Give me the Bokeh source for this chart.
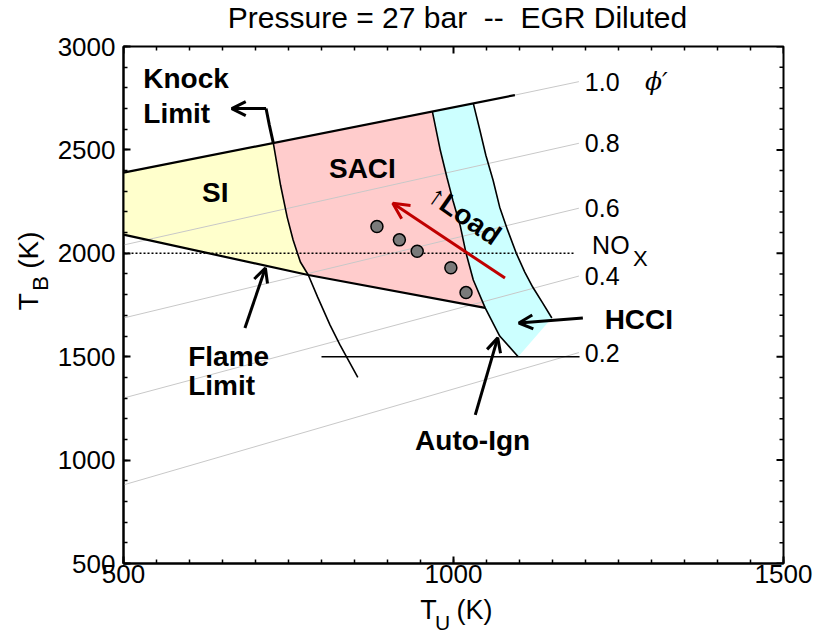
from bokeh.plotting import figure
from bokeh.layouts import column, row
from bokeh.models import Range1d, SingleIntervalTicker, Label, Arrow, OpenHead
from bokeh.embed import file_html
from bokeh.resources import INLINE

# ---- data (T_U = unburned temperature, T_B = burned temperature, K) ----
# phi' lines of constant charge equivalence ratio
phi_names = ["1.0", "0.8", "0.6", "0.4", "0.2"]
phi10_tu = [500, 1093, 1190]
phi10_tb = [2390, 2765, 2830]
phi08_tu = [500, 1190]
phi08_tb = [2040, 2532]
phi06_tu = [500, 1190]
phi06_tb = [1687, 2218]
phi04_tu = [500, 1190]
phi04_tb = [1300, 1890]
phi02_tu = [500, 1190]
phi02_tb = [880, 1520]

# stoichiometric upper boundary (black part of the phi'=1.0 line)
stoich_tu = [500, 1093]
stoich_tb = [2390, 2765]

# flame (lean) limit
flame_tu = [500, 780, 1048]
flame_tb = [2090, 1895, 1736]

# knock limit
knock_tu = [727, 738, 748, 757, 768, 780, 794, 813, 828, 855]
knock_tb = [2533, 2329, 2175, 2064, 1958, 1895, 1789, 1653, 1557, 1400]
knock_flame_idx = 5

# auto-ignition limit (left edge of the HCCI band)
ai_tu = [968, 980, 990, 999, 1010, 1019, 1030, 1048, 1070, 1098]
ai_tb = [2685, 2498, 2368, 2257, 2136, 2001, 1871, 1736, 1600, 1500]
ai_flame_idx = 7

# right edge of the HCCI band
hr_tu = [1030, 1040, 1049, 1060, 1070, 1082, 1095, 1108, 1120, 1135, 1149]
hr_tb = [2725, 2595, 2474, 2353, 2223, 2112, 2001, 1909, 1837, 1760, 1687]

# measured SACI operating points
pts_tu = [884, 918, 945, 996, 1019]
pts_tb = [2130, 2065, 2010, 1930, 1810]

# NOx threshold and lower burned-temperature line
nox_tb = 2000
nox_tu = [500, 1184]
low_tb = 1500
low_tu = [800, 1191]

# load direction
load_from = (1078, 1880)
load_to = (908, 2242)

# axis limits and ticks
x_lim = (500, 1500)
y_lim = (500, 3000)
x_minor = [550, 600, 650, 700, 750, 800, 850, 900, 950,
           1050, 1100, 1150, 1200, 1250, 1300, 1350, 1400, 1450]
x_major = [500, 1000, 1500]
y_minor = [600, 700, 800, 900, 1100, 1200, 1300, 1400, 1600, 1700, 1800, 1900,
           2100, 2200, 2300, 2400, 2600, 2700, 2800, 2900]
y_major = [500, 1000, 1500, 2000, 2500, 3000]

FONT = "Liberation Sans"
MAJOR_PX, MINOR_PX = 7, 4

# ---- page geometry (pixels) ----
W, H = 814, 634
TOP_H, LEFT_W = 34, 54
MAIN_W, MAIN_H = W - LEFT_W, 561
BOT_H = H - TOP_H - MAIN_H
BORDER = dict(left=69, right=31, top=12, bottom=32)
FRAME_W = MAIN_W - BORDER["left"] - BORDER["right"]
FRAME_H = MAIN_H - BORDER["top"] - BORDER["bottom"]

p = figure(width=MAIN_W, height=MAIN_H, x_range=Range1d(*x_lim), y_range=Range1d(*y_lim),
           output_backend="svg", toolbar_location=None,
           min_border_left=BORDER["left"], min_border_right=BORDER["right"],
           min_border_top=BORDER["top"], min_border_bottom=BORDER["bottom"])
p.xgrid.visible = False
p.ygrid.visible = False
p.outline_line_color = "black"
p.outline_line_width = 2
p.background_fill_color = None
p.border_fill_color = "white"

# ---- combustion-mode regions ----
si_x = [stoich_tu[0]] + knock_tu[:knock_flame_idx + 1] + flame_tu[:2][::-1]
si_y = [stoich_tb[0]] + knock_tb[:knock_flame_idx + 1] + flame_tb[:2][::-1]
p.patch(si_x, si_y, fill_color="#FFFFCC", line_color=None)

saci_x = (knock_tu[:1] + ai_tu[:ai_flame_idx + 1] + flame_tu[1:][::-1]
          + knock_tu[:knock_flame_idx + 1][::-1])
saci_y = (knock_tb[:1] + ai_tb[:ai_flame_idx + 1] + flame_tb[1:][::-1]
          + knock_tb[:knock_flame_idx + 1][::-1])
p.patch(saci_x, saci_y, fill_color="#FFCCCC", line_color=None)

hcci_x = ai_tu + hr_tu[::-1]
hcci_y = ai_tb + hr_tb[::-1]
p.patch(hcci_x, hcci_y, fill_color="#CCFFFF", line_color=None)

# ---- phi' lines ----
phi_tus = [phi10_tu, phi08_tu, phi06_tu, phi04_tu, phi02_tu]
phi_tbs = [phi10_tb, phi08_tb, phi06_tb, phi04_tb, phi02_tb]
for tu, tb in zip(phi_tus, phi_tbs):
    p.line(tu, tb, line_color="#c8c8c8", line_width=1)

# ---- limit lines ----
p.line(stoich_tu, stoich_tb, line_color="black", line_width=2.2)
p.line(flame_tu, flame_tb, line_color="black", line_width=2.2)
p.line(knock_tu, knock_tb, line_color="black", line_width=1.6)
p.line(ai_tu, ai_tb, line_color="black", line_width=1.6)
p.line(hr_tu, hr_tb, line_color="black", line_width=1.6)
p.line(nox_tu, [nox_tb, nox_tb], line_color="black", line_width=1.6, line_dash="2 2")
p.line(low_tu, [low_tb, low_tb], line_color="black", line_width=1.6)

# operating points
p.scatter(pts_tu, pts_tb, size=12, fill_color="#7a7a7a", line_color="black", line_width=1.5)

# load arrow
p.add_layout(Arrow(x_start=load_from[0], y_start=load_from[1], x_end=load_to[0], y_end=load_to[1],
                   line_color="#c00000", line_width=3,
                   end=OpenHead(size=16, line_color="#c00000", line_width=3)))

# ---- annotation arrows ----
knock_lead_tu = [727, 721, 716]
knock_lead_tb = [2533, 2620, 2700]
p.line(knock_lead_tu, knock_lead_tb, line_color="black", line_width=3)
p.add_layout(Arrow(x_start=716, y_start=2700, x_end=664, y_end=2700, line_width=3,
                   end=OpenHead(size=14, line_width=3)))
p.add_layout(Arrow(x_start=684, y_start=1639, x_end=715, y_end=1929, line_width=3,
                   end=OpenHead(size=14, line_width=3)))
p.add_layout(Arrow(x_start=1033, y_start=1219, x_end=1067, y_end=1591, line_width=3,
                   end=OpenHead(size=14, line_width=3)))
p.add_layout(Arrow(x_start=1196, y_start=1687, x_end=1099, y_end=1663, line_width=3,
                   end=OpenHead(size=14, line_width=3)))

# ---- inward ticks along the top and right edges of the frame ----
ux = (x_lim[1] - x_lim[0]) / FRAME_W   # data units per pixel along x
uy = (y_lim[1] - y_lim[0]) / FRAME_H   # data units per pixel along y


def edge_ticks(xs, ys, length_px, width):
    x0, y0, x1, y1 = [], [], [], []
    for v in xs:
        x0.append(v)
        x1.append(v)
        y0.append(y_lim[1])
        y1.append(y_lim[1] - length_px * uy)
    for v in ys:
        y0.append(v)
        y1.append(v)
        x0.append(x_lim[1])
        x1.append(x_lim[1] - length_px * ux)
    p.segment(x0=x0, y0=y0, x1=x1, y1=y1, line_color="black", line_width=width)


edge_ticks(x_minor, y_minor, MINOR_PX, 1.5)
edge_ticks(x_major, y_major, MAJOR_PX, 2)


def lab(fig, x, y, text, size, bold=False, align="left", angle=0.0, italic=False, font=FONT):
    style = "bold" if bold else ("italic" if italic else "normal")
    fig.add_layout(Label(x=x, y=y, text=text, text_font=font, text_font_size=f"{size}px",
                         text_font_style=style, text_align=align, text_baseline="middle",
                         angle=angle, text_color="black"))


# region and limit names
lab(p, 530, 2846, "Knock", 28, bold=True)
lab(p, 530, 2677, "Limit", 28, bold=True)
lab(p, 639, 2295, "SI", 28, bold=True, align="center")
lab(p, 862, 2411, "SACI", 28, bold=True, align="center")
lab(p, 1229, 1678, "HCCI", 28, bold=True)
lab(p, 598, 1499, "Flame", 28, bold=True)
lab(p, 598, 1359, "Limit", 28, bold=True)
lab(p, 1029, 1094, "Auto-Ign", 28, bold=True, align="center")
lab(p, 1017, 2184, "\u2191Load", 28, bold=True, align="center", angle=-0.61)

# phi' labels at the line ends
for name, tu, tb in zip(phi_names, phi_tus, phi_tbs):
    lab(p, tu[-1] + 9, tb[-1], name, 25)
lab(p, 1290, phi10_tb[-1], "\u03d5\u2032", 25, italic=True, font="DejaVu Serif")
lab(p, nox_tu[-1] + 26, nox_tb + 40, "NO", 25)
lab(p, nox_tu[-1] + 88, nox_tb - 23, "X", 22)

# ---- bottom and left axes (inward ticks) ----
p.xaxis.ticker = SingleIntervalTicker(interval=500, num_minor_ticks=10)
p.yaxis.ticker = SingleIntervalTicker(interval=500, num_minor_ticks=5)
for ax in p.axis:
    ax.axis_line_width = 2
    ax.axis_line_color = "black"
    ax.major_tick_in = MAJOR_PX
    ax.major_tick_out = 0
    ax.minor_tick_in = MINOR_PX
    ax.minor_tick_out = 0
    ax.major_tick_line_width = 2
    ax.minor_tick_line_width = 1.5
    ax.major_tick_line_color = "black"
    ax.minor_tick_line_color = "black"
    ax.major_label_text_font = FONT
    ax.major_label_text_font_size = "26px"
    ax.major_label_text_color = "black"
p.xaxis.major_label_standoff = 1
p.yaxis.major_label_standoff = 8


# ---- margin strips carrying the title and axis titles (pixel coordinates) ----
def strip(w, h, x0, y0):
    f = figure(width=w, height=h, x_range=Range1d(x0, x0 + w), y_range=Range1d(y0 + h, y0),
               output_backend="svg", toolbar_location=None, min_border=0,
               x_axis_location=None, y_axis_location=None)
    f.xgrid.visible = False
    f.ygrid.visible = False
    f.outline_line_color = None
    f.background_fill_color = "white"
    f.border_fill_color = "white"
    return f


top = strip(W, TOP_H, 0, 0)
left = strip(LEFT_W, MAIN_H, 0, TOP_H)
bottom = strip(W, BOT_H, 0, TOP_H + MAIN_H)

lab(top, 457, 17, "Pressure = 27 bar \u00a0-- \u00a0EGR Diluted", 30, align="center")

lab(left, 28, 311, "T", 28, align="center", angle=1.5708)
lab(left, 40, 291, "B", 22, align="center", angle=1.5708)
lab(left, 28, 255, "(K)", 28, align="center", angle=1.5708)

lab(bottom, 428, 609, "T", 27, align="center")
lab(bottom, 442, 622, "U", 21, align="center")
lab(bottom, 474, 609, "(K)", 27, align="center")

layout = column(top, row(left, p, spacing=0), bottom, spacing=0)

open("out.html", "w").write(file_html(layout, INLINE))
